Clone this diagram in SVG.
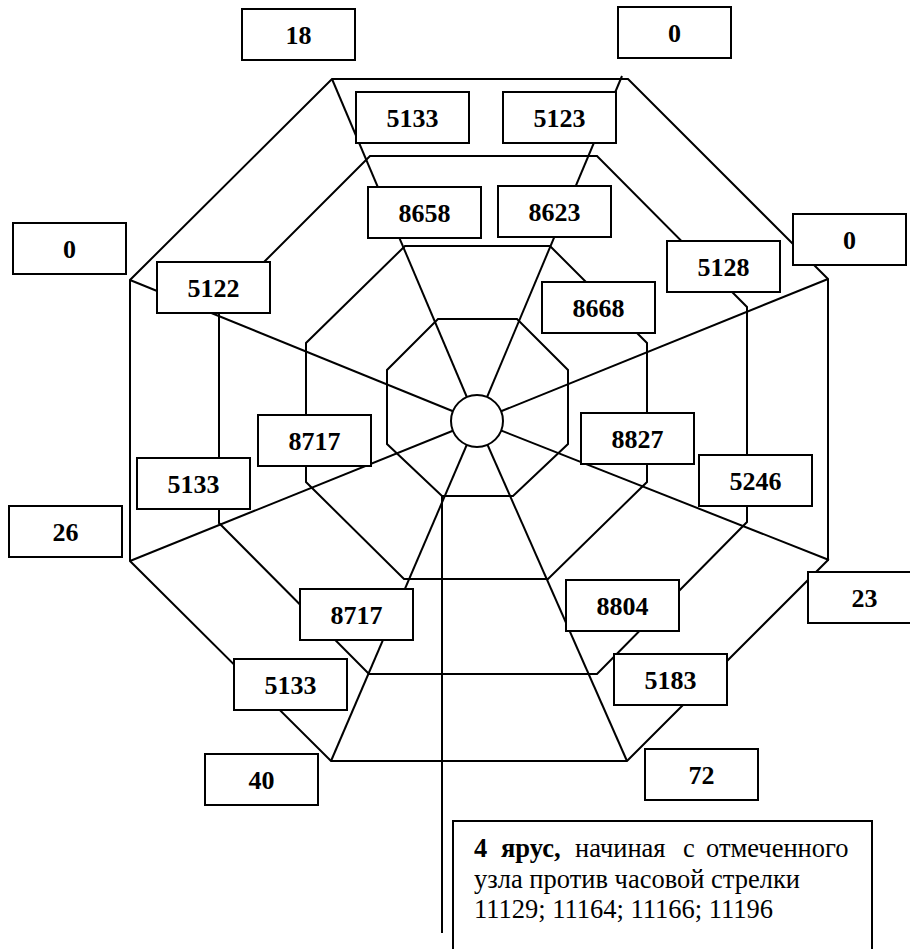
<svg xmlns="http://www.w3.org/2000/svg" width="910" height="949" viewBox="0 0 910 949">
  <style>
    .ln { fill: none; stroke: #000; stroke-width: 2; stroke-linejoin: miter; }
    .box { fill: #fff; stroke: #000; stroke-width: 2; }
    .lbl { font-size: 26px; font-weight: bold; text-anchor: middle; fill: #000; }
    .note { font-size: 26.5px; fill: #000; }
    .b { font-weight: bold; }
  </style>
  <rect width="910" height="949" fill="#fff"/>

  <!-- rings, spokes and the pointer to the marked node -->
  <g id="connectors">
    <polygon class="ln" points="332,79 628,79 828,279 828,560 627,761 331,761 130,561 130,280"/>
    <polygon class="ln" points="370,156 597,156 747,307 747,522 597,674 369,674 219,523 219,307"/>
    <polygon class="ln" points="405,246 550,246 647,343 647,482 548,579 404,579 306,482 306,343"/>
    <polygon class="ln" points="438,319 517,319 568,370 568,444 513,496 442,496 387,444 387,370"/>
    <line class="ln" x1="477" y1="421" x2="332" y2="79"/>
    <line class="ln" x1="477" y1="421" x2="622" y2="76"/>
    <line class="ln" x1="477" y1="421" x2="828" y2="279"/>
    <line class="ln" x1="477" y1="421" x2="829" y2="560"/>
    <line class="ln" x1="477" y1="421" x2="627" y2="761"/>
    <line class="ln" x1="477" y1="421" x2="331" y2="761"/>
    <line class="ln" x1="477" y1="421" x2="130" y2="561"/>
    <line class="ln" x1="477" y1="421" x2="130" y2="280"/>
    <line class="ln" x1="442" y1="496" x2="442" y2="933"/>
  </g>

  <g id="hub">
    <circle cx="477" cy="421" r="26" fill="#fff" stroke="#000" stroke-width="2"/>
  </g>

  <g font-family="'Liberation Serif', 'DejaVu Serif', serif">
  <!-- ring 1 (outer) -->
  <g id="n-top-left-18"><rect class="box" x="242" y="9" width="113" height="51"/><text class="lbl" x="298.5" y="44">18</text></g>
  <g id="n-top-right-0"><rect class="box" x="618" y="7" width="113" height="51"/><text class="lbl" x="674.5" y="42">0</text></g>
  <g id="n-right-0"><rect class="box" x="793" y="214" width="113" height="51"/><text class="lbl" x="849.5" y="249">0</text></g>
  <g id="n-left-0"><rect class="box" x="13" y="223" width="113" height="51"/><text class="lbl" x="69.5" y="258">0</text></g>
  <g id="n-left-26"><rect class="box" x="9" y="506" width="113" height="51"/><text class="lbl" x="65.5" y="541">26</text></g>
  <g id="n-right-23"><rect class="box" x="808" y="572" width="113" height="51"/><text class="lbl" x="864.5" y="607">23</text></g>
  <g id="n-bottom-40"><rect class="box" x="205" y="754" width="113" height="51"/><text class="lbl" x="261.5" y="789">40</text></g>
  <g id="n-bottom-72"><rect class="box" x="645" y="749" width="113" height="51"/><text class="lbl" x="701.5" y="784">72</text></g>

  <!-- ring 2 -->
  <g id="n-5133-top"><rect class="box" x="356" y="92" width="113" height="51"/><text class="lbl" x="412.5" y="127">5133</text></g>
  <g id="n-5123"><rect class="box" x="503" y="92" width="113" height="51"/><text class="lbl" x="559.5" y="127">5123</text></g>
  <g id="n-5128"><rect class="box" x="667" y="241" width="113" height="51"/><text class="lbl" x="723.5" y="276">5128</text></g>
  <g id="n-5122"><rect class="box" x="157" y="262" width="113" height="51"/><text class="lbl" x="213.5" y="297">5122</text></g>
  <g id="n-5133-left"><rect class="box" x="137" y="458" width="113" height="51"/><text class="lbl" x="193.5" y="493">5133</text></g>
  <g id="n-5246"><rect class="box" x="699" y="455" width="113" height="51"/><text class="lbl" x="755.5" y="490">5246</text></g>
  <g id="n-5133-bottom"><rect class="box" x="234" y="659" width="113" height="51"/><text class="lbl" x="290.5" y="694">5133</text></g>
  <g id="n-5183"><rect class="box" x="614" y="654" width="113" height="51"/><text class="lbl" x="670.5" y="689">5183</text></g>

  <!-- ring 3 -->
  <g id="n-8658"><rect class="box" x="368" y="187" width="113" height="51"/><text class="lbl" x="424.5" y="222">8658</text></g>
  <g id="n-8623"><rect class="box" x="498" y="186" width="113" height="51"/><text class="lbl" x="554.5" y="221">8623</text></g>
  <g id="n-8668"><rect class="box" x="542" y="282" width="113" height="51"/><text class="lbl" x="598.5" y="317">8668</text></g>
  <g id="n-8717-left"><rect class="box" x="258" y="415" width="113" height="51"/><text class="lbl" x="314.5" y="450">8717</text></g>
  <g id="n-8827"><rect class="box" x="581" y="413" width="113" height="51"/><text class="lbl" x="637.5" y="448">8827</text></g>
  <g id="n-8717-bottom"><rect class="box" x="300" y="589" width="113" height="51"/><text class="lbl" x="356.5" y="624">8717</text></g>
  <g id="n-8804"><rect class="box" x="566" y="580" width="113" height="51"/><text class="lbl" x="622.5" y="615">8804</text></g>

  <!-- note on ring 4 -->
  <g id="note">
    <rect class="box" x="453" y="821" width="419" height="200"/>
    <text class="note b" x="474" y="857">4</text>
    <text class="note b" x="501" y="857">ярус,</text>
    <text class="note" x="575" y="857">начиная</text>
    <text class="note" x="683" y="857">с</text>
    <text class="note" x="706" y="857">отмеченного</text>
    <text class="note" x="474" y="888">узла против часовой стрелки</text>
    <text class="note" x="474" y="918">11129; 11164; 11166; 11196</text>
  </g>
  </g>
</svg>
